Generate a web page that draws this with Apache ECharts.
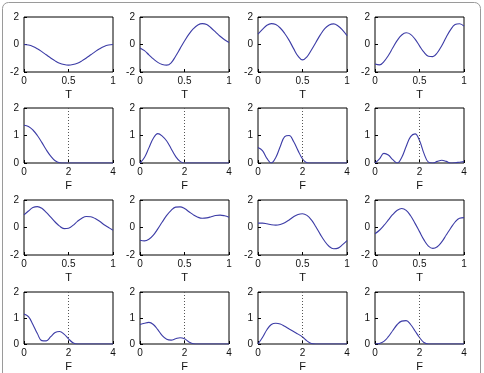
<!DOCTYPE html>
<html><head><meta charset="utf-8">
<script src="https://cdn.jsdelivr.net/npm/echarts@6/dist/echarts.min.js"></script>
<style>html,body{margin:0;padding:0;background:#fff}#c{width:484px;height:373px}</style>
</head><body><div id="c"></div>
<script>
// sample positions
const tPos = [0,0.05,0.1,0.15,0.2,0.25,0.3,0.35,0.4,0.45,0.5,0.55,0.6,0.65,0.7,0.75,0.8,0.85,0.9,0.95,1];
const fPos = [0,0.2,0.4,0.6,0.8,1.0,1.2,1.4,1.6,1.8,2.0,2.2,2.4,2.6,2.8,3.0,3.2,3.4,3.6,3.8,4.0];
// time-domain signals (rows 1 and 3)
const T1 = [0,-0.04,-0.14,-0.31,-0.52,-0.75,-0.98,-1.19,-1.36,-1.46,-1.5,-1.46,-1.36,-1.19,-0.98,-0.75,-0.52,-0.31,-0.14,-0.04,0];
const T2 = [-0.25,-0.45,-0.75,-1.05,-1.3,-1.45,-1.5,-1.33,-0.85,-0.3,0.25,0.75,1.15,1.42,1.52,1.45,1.2,0.9,0.6,0.35,0.15];
const T3 = [0.75,1.1,1.4,1.52,1.45,1.2,0.8,0.3,-0.3,-0.85,-1.12,-0.9,-0.4,0.15,0.7,1.15,1.42,1.5,1.35,1.05,0.65];
const T4 = [-1.42,-1.48,-1.24,-0.8,-0.24,0.3,0.69,0.85,0.74,0.39,-0.1,-0.56,-0.85,-0.88,-0.6,-0.09,0.53,1.08,1.45,1.51,1.33];
const T5 = [0.92,1.2,1.45,1.52,1.4,1.1,0.75,0.4,0.1,-0.08,-0.05,0.15,0.45,0.68,0.8,0.78,0.65,0.45,0.2,0.0,-0.2];
const T6 = [-0.93,-0.97,-0.85,-0.55,-0.1,0.4,0.88,1.25,1.48,1.5,1.38,1.15,0.92,0.75,0.67,0.7,0.78,0.87,0.9,0.85,0.75];
const T7 = [0.32,0.32,0.27,0.2,0.17,0.22,0.35,0.55,0.78,0.95,1.0,0.88,0.55,0.05,-0.5,-1.0,-1.38,-1.55,-1.5,-1.25,-0.95];
const T8 = [-0.45,-0.2,0.15,0.55,0.95,1.25,1.38,1.25,0.85,0.3,-0.3,-0.9,-1.35,-1.52,-1.4,-1.05,-0.55,-0.05,0.4,0.68,0.72];
// spectra (rows 2 and 4)
const F1 = [1.37,1.33,1.2,1.0,0.75,0.48,0.25,0.08,0.01,0,0,0,0,0,0,0,0,0,0,0,0];
const F2 = [0,0.2,0.55,0.9,1.07,0.98,0.8,0.52,0.24,0.06,0,0,0,0,0,0,0,0,0,0,0];
const F3 = [0.56,0.45,0.17,0.0,0.2,0.6,0.96,1.0,0.78,0.45,0.15,0.01,0,0,0,0,0,0,0,0,0];
const F4 = [0,0.15,0.35,0.29,0.12,0.0,0.2,0.6,0.96,1.06,0.82,0.35,0.03,0.0,0.06,0.1,0.06,0.0,0.01,0.03,0.05];
const F5 = [1.15,1.05,0.75,0.4,0.13,0.12,0.28,0.44,0.48,0.38,0.2,0.05,0,0,0,0,0,0,0,0,0];
const F6 = [0.75,0.8,0.83,0.75,0.55,0.32,0.18,0.15,0.2,0.24,0.2,0.08,0.01,0,0,0,0,0,0,0,0];
const F7 = [0,0.25,0.55,0.75,0.8,0.77,0.68,0.58,0.48,0.38,0.27,0.12,0.02,0,0,0,0,0,0,0,0];
const F8 = [0,0.02,0.1,0.28,0.52,0.75,0.88,0.9,0.75,0.5,0.25,0.06,0,0,0,0,0,0,0,0,0];
// ticks / labels
const tTicks = [0,0.5,1];
const tYTicks = [-2,0,2];
const fTicks = [0,2,4];
const fYTicks = [0,1,2];
const tName = 'T';
const fName = 'F';
const markF = 2;

const panels = [
  [T1,T2,T3,T4],[F1,F2,F3,F4],[T5,T6,T7,T8],[F5,F6,F7,F8]
];
const colLeft = [24,140,258,375];
const rowTop = [17,108,200,292];
const W = 89, H = 55;
const lineColor = '#3c3ca6';
const font = 'Liberation Sans, Arial, sans-serif';

const grid=[],xAxis=[],yAxis=[],series=[];
let k=0;
for(let r=0;r<4;r++){
  const isT = r%2===0;
  for(let c=0;c<4;c++){
    grid.push({left:colLeft[c],top:rowTop[r],width:W,height:H,show:true,borderColor:'#000',borderWidth:1,backgroundColor:'#fff'});
    xAxis.push({type:'value',gridIndex:k,min:0,max:isT?1:4,interval:isT?0.5:2,
      name:isT?tName:fName,nameLocation:'middle',nameGap:17,
      nameTextStyle:{color:'#111',fontSize:11,fontFamily:font},
      axisLine:{show:false,onZero:false},splitLine:{show:false},
      axisTick:{show:true,inside:true,length:3,lineStyle:{color:'#000'}},
      axisLabel:{color:'#111',fontSize:10,fontFamily:font,margin:4,
        formatter:v=>String(v)}});
    yAxis.push({type:'value',gridIndex:k,min:isT?-2:0,max:2,interval:isT?2:1,
      axisLine:{show:false,onZero:false},splitLine:{show:false},
      axisTick:{show:true,inside:true,length:3,lineStyle:{color:'#000'}},
      axisLabel:{color:'#111',fontSize:10,fontFamily:font,margin:5}});
    const xs = isT?tPos:fPos;
    const ys = panels[r][c];
    const s = {type:'line',xAxisIndex:k,yAxisIndex:k,data:xs.map((x,i)=>[x,ys[i]]),
      smooth:0.4,showSymbol:false,symbol:'none',lineStyle:{color:lineColor,width:1.1},silent:true,animation:false,z:3};
    if(!isT){
      s.markLine={silent:true,symbol:'none',label:{show:false},animation:false,
        lineStyle:{color:'#555',type:[1,2],width:1},data:[{xAxis:markF}]};
    }
    series.push(s);
    k++;
  }
}
const chart = echarts.init(document.getElementById('c'),null,{renderer:'canvas'});
chart.setOption({
  animation:false,backgroundColor:'#fff',
  graphic:[{type:'rect',shape:{x:2.5,y:2.5,width:478,height:390,r:6},style:{fill:'none',stroke:'#9a9a9a',lineWidth:1},z:-1}],
  grid,xAxis,yAxis,series
});
</script></body></html>
